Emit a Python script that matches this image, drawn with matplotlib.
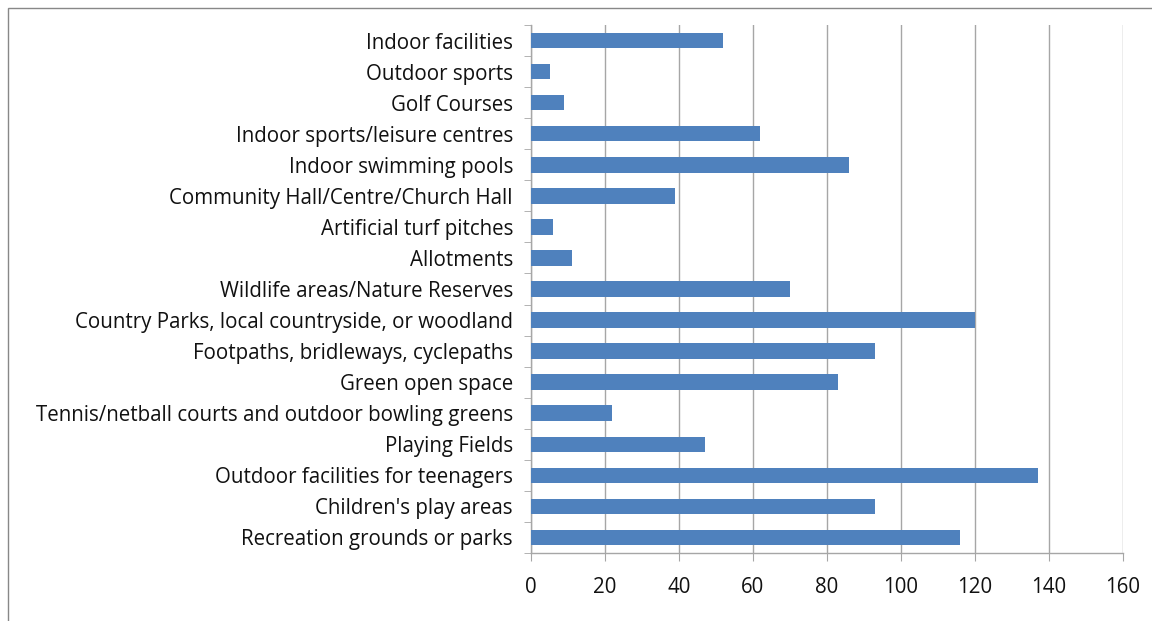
import numpy as np
import matplotlib.pyplot as plt
from matplotlib.patches import Rectangle

# categories listed bottom to top
categories = [
    "Recreation grounds or parks",
    "Children's play areas",
    "Outdoor facilities for teenagers",
    "Playing Fields",
    "Tennis/netball courts and outdoor bowling greens",
    "Green open space",
    "Footpaths, bridleways, cyclepaths",
    "Country Parks, local countryside, or woodland",
    "Wildlife areas/Nature Reserves",
    "Allotments",
    "Artificial turf pitches",
    "Community Hall/Centre/Church Hall",
    "Indoor swimming pools",
    "Indoor sports/leisure centres",
    "Golf Courses",
    "Outdoor sports",
    "Indoor facilities",
]
values = [116, 93, 137, 47, 22, 83, 93, 120, 70, 11, 6, 39, 86, 62, 9, 5, 52]
xticks = [0, 20, 40, 60, 80, 100, 120, 140, 160]

plt.rcParams['font.family'] = ['Open Sans', 'DejaVu Sans']

fig = plt.figure(figsize=(11.52, 6.21), dpi=100)
ax = fig.add_axes([531/1152, 1-553/621, 592/1152, 528/621])

# outer chart border
fig.patches.append(Rectangle((8/1152, -0.05), 1.2, 1-8/621+0.05,
                             transform=fig.transFigure, fill=False,
                             edgecolor='#888888', linewidth=1.0))

y = np.arange(len(categories))
ax.barh(y, values, height=0.5, color='#4f81bd', zorder=3)

ax.set_xlim(0, 160)
ax.set_ylim(-0.5, len(categories)-0.5)
ax.set_xticks(xticks)
ax.grid(axis='x', color='#a6a6a6', linewidth=1.0, zorder=0)

ax.set_yticks(y)
ax.set_yticklabels(categories, fontsize=14.8, color='#111111')
ax.set_yticks(np.arange(len(categories)+1) - 0.5, minor=True)
ax.tick_params(axis='y', which='major', length=0, pad=13)
ax.tick_params(axis='y', which='minor', length=5, color='#a6a6a6', direction='out')
ax.tick_params(axis='x', length=6, color='#a6a6a6', direction='out', pad=11,
               labelsize=14.8, labelcolor='#111111')

for s in ['top', 'right']:
    ax.spines[s].set_visible(False)
for s in ['left', 'bottom']:
    ax.spines[s].set_color('#a6a6a6')
    ax.spines[s].set_linewidth(1.0)

fig.savefig('out.png', dpi=100)
